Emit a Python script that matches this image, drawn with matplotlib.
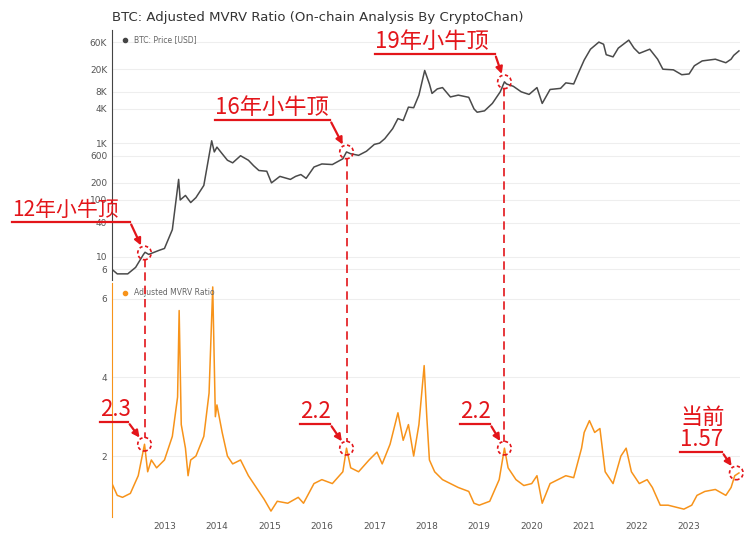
import matplotlib
matplotlib.use("Agg")
import matplotlib.pyplot as plt
import numpy as np
from matplotlib.ticker import FixedLocator, NullLocator

# BTC price (year fraction, USD)
price_t = [2012.0, 2012.1, 2012.3, 2012.45, 2012.6, 2012.63, 2012.7, 2012.9, 2013.0, 2013.15, 2013.27, 2013.3,
           2013.4, 2013.5, 2013.6, 2013.75, 2013.9, 2013.95, 2014.0, 2014.1, 2014.2, 2014.3, 2014.45, 2014.6,
           2014.7, 2014.8, 2014.95, 2015.04, 2015.2, 2015.4, 2015.5, 2015.6, 2015.7, 2015.85, 2016.0, 2016.2,
           2016.4, 2016.47, 2016.55, 2016.7, 2016.85, 2017.0, 2017.1, 2017.2, 2017.35, 2017.45, 2017.55,
           2017.65, 2017.75, 2017.85, 2017.96, 2018.05, 2018.1, 2018.2, 2018.3, 2018.45, 2018.6, 2018.8,
           2018.9, 2018.96, 2019.1, 2019.25, 2019.4, 2019.48, 2019.52, 2019.65, 2019.8, 2019.95, 2020.1,
           2020.2, 2020.35, 2020.55, 2020.65, 2020.8, 2020.9, 2021.0, 2021.12, 2021.28, 2021.37, 2021.42,
           2021.55, 2021.65, 2021.85, 2021.95, 2022.05, 2022.25, 2022.4, 2022.5, 2022.7, 2022.86, 2023.0,
           2023.1, 2023.25, 2023.5, 2023.7, 2023.8, 2023.85, 2023.95]
price_v = [6, 5, 5, 6.5, 11, 12, 11, 13, 14, 30, 230, 100,
           120, 90, 110, 180, 1100, 700, 850, 650, 500, 450, 600, 500,
           400, 330, 320, 200, 260, 230, 260, 280, 240, 380, 430, 420,
           530, 700, 650, 610, 720, 950, 1000, 1200, 1800, 2700, 2500,
           4300, 4200, 7000, 19000, 11000, 7500, 9000, 9500, 6500, 7000, 6400,
           4000, 3500, 3700, 5000, 8000, 12000, 11000, 10000, 8000, 7200, 9500,
           5000, 8800, 9200, 11500, 11000, 18000, 29000, 45000, 60000, 55000, 36000,
           33000, 47000, 65000, 47000, 38000, 45000, 30000, 20000, 19500, 16000, 16500,
           23000, 28000, 30000, 26000, 30000, 35000, 42000]

# Adjusted MVRV ratio
mvrv_t = [2012.0, 2012.1, 2012.2, 2012.35, 2012.5, 2012.62, 2012.68, 2012.75, 2012.85, 2013.0, 2013.15,
          2013.25, 2013.28, 2013.32, 2013.4, 2013.45, 2013.5, 2013.6, 2013.75, 2013.85, 2013.92, 2013.97,
          2014.0, 2014.1, 2014.2, 2014.3, 2014.45, 2014.6, 2014.75, 2014.9, 2015.03, 2015.15, 2015.35,
          2015.55, 2015.65, 2015.85, 2016.0, 2016.2, 2016.4, 2016.47, 2016.55, 2016.7, 2016.9, 2017.05,
          2017.15, 2017.3, 2017.45, 2017.55, 2017.65, 2017.75, 2017.85, 2017.95, 2018.0, 2018.05, 2018.15,
          2018.3, 2018.45, 2018.6, 2018.8, 2018.9, 2019.0, 2019.2, 2019.38, 2019.48, 2019.55, 2019.7,
          2019.85, 2020.0, 2020.1, 2020.2, 2020.35, 2020.5, 2020.65, 2020.8, 2020.95, 2021.0, 2021.1,
          2021.2, 2021.3, 2021.4, 2021.55, 2021.7, 2021.8, 2021.9, 2022.05, 2022.2, 2022.3, 2022.45,
          2022.6, 2022.75, 2022.9, 2023.05, 2023.15, 2023.3, 2023.5, 2023.7, 2023.8, 2023.87, 2023.95]
mvrv_v = [1.3, 1.0, 0.95, 1.05, 1.5, 2.3, 1.6, 1.9, 1.7, 1.9, 2.5,
          3.5, 5.7, 2.8, 2.2, 1.5, 1.9, 2.0, 2.5, 3.6, 6.3, 3.0,
          3.3, 2.6, 2.0, 1.8, 1.9, 1.5, 1.2, 0.9, 0.6, 0.85, 0.8,
          0.95, 0.8, 1.3, 1.4, 1.3, 1.6, 2.2, 1.7, 1.6, 1.9, 2.1,
          1.8, 2.3, 3.1, 2.4, 2.8, 2.0, 2.8, 4.3, 3.0, 1.9, 1.6,
          1.4, 1.3, 1.2, 1.1, 0.8, 0.75, 0.85, 1.4, 2.2, 1.7, 1.4,
          1.25, 1.3, 1.5, 0.8, 1.3, 1.4, 1.5, 1.45, 2.2, 2.6, 2.9,
          2.6, 2.7, 1.6, 1.3, 2.0, 2.2, 1.6, 1.3, 1.4, 1.2, 0.75,
          0.75, 0.7, 0.65, 0.75, 1.0, 1.1, 1.15, 1.0, 1.2, 1.5, 1.57]

price_ticks = [6, 10, 40, 100, 200, 600, 1000, 4000, 8000, 20000, 60000]
price_labels = ["6", "10", "40", "100", "200", "600", "1K", "4K", "8K", "20K", "60K"]
mvrv_ticks = [2, 4, 6]
years = list(range(2013, 2024))

# annotations: date, top label, bottom label
ann_dates = [2012.62, 2016.47, 2019.48]
ann_top = ["12年小牛顶", "16年小牛顶", "19年小牛顶"]
ann_bot = ["2.3", "2.2", "2.2"]
now_date = 2023.95
now_label = "当前\n1.57"

W, H = 750, 546
fig = plt.figure(figsize=(W / 100, H / 100), dpi=100)
ax1 = fig.add_axes([112 / W, 1 - 280 / H, 628 / W, 250 / H])
ax2 = fig.add_axes([112 / W, 1 - 517 / H, 628 / W, 234 / H])

RED = "#e3151a"
CJK = ["Noto Sans CJK SC", "Noto Sans CJK JP", "Noto Sans CJK TC", "DejaVu Sans"]

ax1.plot(price_t, price_v, color="#4a4a4a", lw=1.1)
ax1.set_yscale("log")
ax1.set_ylim(3.9, 98000)
ax1.yaxis.set_major_locator(FixedLocator(price_ticks))
ax1.set_yticklabels(price_labels)
ax1.yaxis.set_minor_locator(NullLocator())
ax1.set_xticks([])

ax2.plot(mvrv_t, mvrv_v, color="#f7931a", lw=1.1)
ax2.set_ylim(0.45, 6.4)
ax2.set_yticks(mvrv_ticks)
ax2.set_xticks(years)
ax2.set_xticklabels([str(y) for y in years])

for ax, c in ((ax1, "#444444"), (ax2, "#f7931a")):
    ax.set_xlim(2012.0, 2023.97)
    for s in ("top", "right", "bottom"):
        ax.spines[s].set_visible(False)
    ax.spines["left"].set_color(c)
    ax.tick_params(length=0, labelsize=6.5, colors="#555555")
    ax.grid(axis="y", color="#eeeeee", lw=0.8)
    ax.set_axisbelow(True)

ax1.plot([], [], "o", color="#444444", ms=3, label="BTC: Price [USD]")
ax1.legend(loc="upper left", frameon=False, fontsize=5.5, handletextpad=0.2, labelcolor="#666666",
           borderaxespad=0.3, bbox_to_anchor=(0.0, 1.0))
ax2.plot([], [], "o", color="#f7931a", ms=3, label="Adjusted MVRV Ratio")
ax2.legend(loc="upper left", frameon=False, fontsize=5.5, handletextpad=0.2, labelcolor="#666666",
           borderaxespad=0.3, bbox_to_anchor=(0.0, 1.0))

fig.text(112 / W, 1 - 17 / H, "BTC: Adjusted MVRV Ratio (On-chain Analysis By CryptoChan)",
         fontsize=9.5, color="#333333", va="center")


def fpx(x, y):
    return (x / W, 1 - y / H)


def callout(ax, target, text, x0, x1, yline, size=16):
    # underline, arrow and label in figure pixel coordinates
    fig.add_artist(plt.Line2D([x0 / W, x1 / W], [1 - yline / H] * 2, color=RED, lw=1.6))
    ax.annotate("", xy=target, xycoords="data", xytext=fpx(x1, yline), textcoords="figure fraction",
                arrowprops=dict(arrowstyle="-|>", color=RED, lw=1.6, mutation_scale=10, shrinkB=6),
                annotation_clip=False)
    fig.text(x0 / W, 1 - (yline - 1) / H, text, color=RED, fontsize=size, fontfamily=CJK,
             va="bottom", ha="left", linespacing=0.95, zorder=6)


def circle(ax, pt):
    ax.scatter([pt[0]], [pt[1]], s=95, facecolors="none", edgecolors=RED, linewidths=1.2,
               linestyle=(0, (2, 1.5)), clip_on=False, zorder=5)


top_lines = [(12, 130, 222, 15), (215, 330, 120, 16), (375, 495, 54, 16)]
bot_lines = [(100, 128, 422, 16), (300, 330, 424, 16), (460, 490, 424, 16)]
inv = fig.transFigure.inverted()
for d, t, b, tl, bl in zip(ann_dates, ann_top, ann_bot, top_lines, bot_lines):
    p = np.interp(d, price_t, price_v)
    m = np.interp(d, mvrv_t, mvrv_v)
    circle(ax1, (d, p))
    circle(ax2, (d, m))
    callout(ax1, (d, p), t, *tl)
    callout(ax2, (d, m), b, *bl)
    # dashed connector from the price circle down to the ratio circle
    xd, y_top = ax1.transData.transform((d, p))
    y_bot = ax2.transData.transform((d, m))[1]
    (xa, ya), (_, yb) = inv.transform([(xd, y_top - 6), (xd, y_bot + 6)])
    fig.add_artist(plt.Line2D([xa, xa], [ya, yb], color=RED, lw=1.2, ls=(0, (5, 3))))

m_now = mvrv_v[-1]
circle(ax2, (now_date - 0.05, m_now))
callout(ax2, (now_date - 0.05, m_now), now_label, 680, 722, 452)

fig.savefig("out.png", dpi=100, facecolor="white")
